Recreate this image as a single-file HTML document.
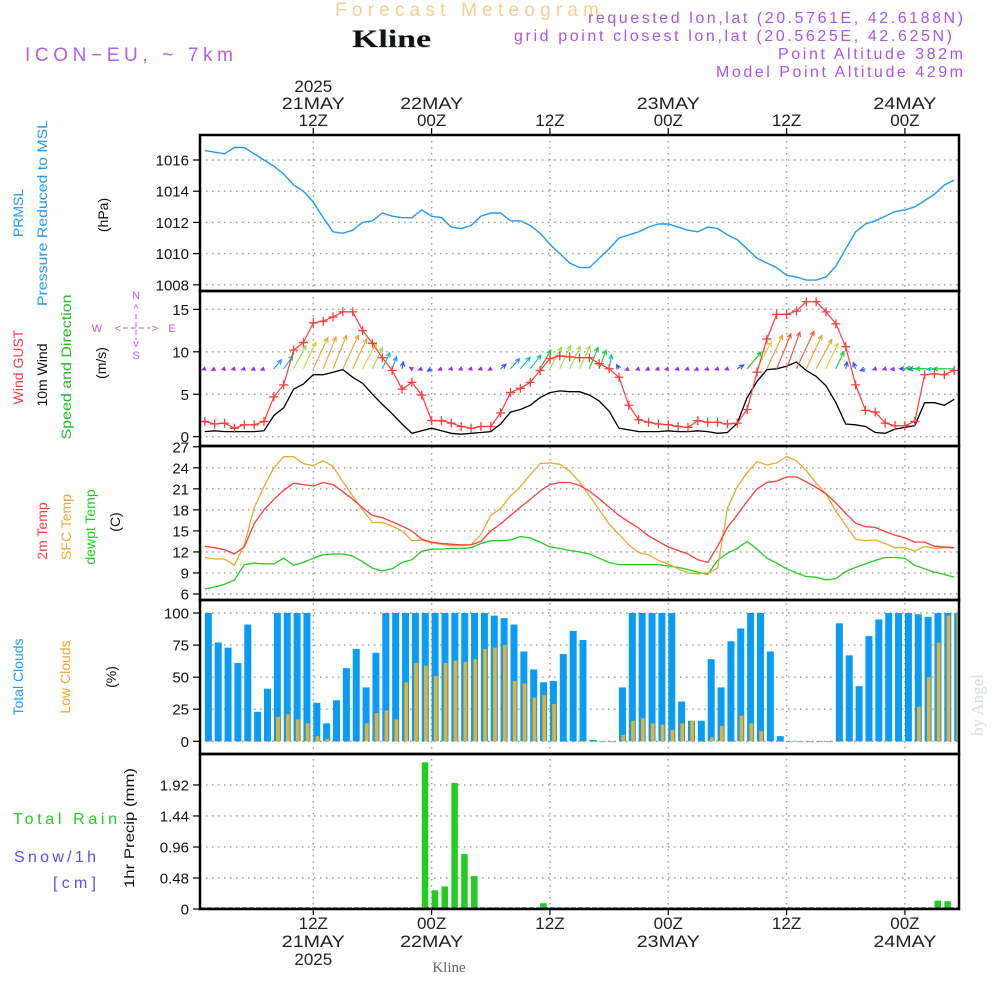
<!DOCTYPE html>
<html><head><meta charset="utf-8"><title>Forecast Meteogram - Kline</title>
<style>
html,body{margin:0;padding:0;background:#fff;}
svg{display:block;font-family:"Liberation Sans",sans-serif;}
.tk{font-size:15px;fill:#111;text-anchor:end;}
.ax{font-size:17px;fill:#222;text-anchor:middle;}
.lab{font-size:14px;text-anchor:middle;}
.grid{stroke:#9a9a9a;stroke-width:1.4;stroke-dasharray:1.5,4.5;fill:none;}
.frame{fill:none;stroke:#000;stroke-width:2.5;}
</style></head>
<body>
<svg id="chart" width="1000" height="1000" viewBox="0 0 1000 1000" xmlns="http://www.w3.org/2000/svg">
  <defs>
    <clipPath id="c1"><rect x="200" y="136" width="759" height="154"/></clipPath>
    <clipPath id="c2"><rect x="200" y="292" width="759" height="153"/></clipPath>
    <clipPath id="c3"><rect x="200" y="447" width="759" height="152"/></clipPath>
    <clipPath id="c4"><rect x="200" y="601" width="759" height="151"/></clipPath>
    <clipPath id="c5"><rect x="200" y="755" width="759" height="153"/></clipPath>
  </defs>
  <!-- header -->
  <text x="335" y="16" font-size="19" fill="#f4d08e" textLength="264" lengthAdjust="spacing">Forecast Meteogram</text>
  <text x="353" y="48" font-size="25" font-weight="bold" font-family="Liberation Serif, serif" fill="#cfe0cf" textLength="79" lengthAdjust="spacingAndGlyphs">Kline</text>
  <text x="352" y="47" font-size="25" font-weight="bold" font-family="Liberation Serif, serif" fill="#111" textLength="79" lengthAdjust="spacingAndGlyphs">Kline</text>
  <text x="25" y="61" font-size="19" fill="#b35ef0" textLength="208" lengthAdjust="spacing">ICON−EU, ~ 7km</text>
  <text x="588" y="23" font-size="16" fill="#a855e8" textLength="375" lengthAdjust="spacing">requested lon,lat (20.5761E, 42.6188N)</text>
  <text x="514" y="41" font-size="16" fill="#a855e8" textLength="438" lengthAdjust="spacing">grid point closest lon,lat (20.5625E, 42.625N)</text>
  <text x="778" y="59" font-size="16" fill="#a855e8" textLength="185" lengthAdjust="spacing">Point Altitude 382m</text>
  <text x="716" y="77" font-size="16" fill="#a855e8" textLength="247" lengthAdjust="spacing">Model Point Altitude 429m</text>

  <!-- left panel labels -->
  <g font-size="15">
    <text class="lab" fill="#1e9bff" transform="translate(23,213) rotate(-90)">PRMSL</text>
    <text class="lab" fill="#1e9bff" transform="translate(47,213) rotate(-90)" textLength="186" lengthAdjust="spacingAndGlyphs">Pressure Reduced to MSL</text>
    <text class="lab" fill="#111" transform="translate(108,215) rotate(-90)">(hPa)</text>
    <text class="lab" fill="#ff3c3c" transform="translate(23,367) rotate(-90)">Wind GUST</text>
    <text class="lab" fill="#111" transform="translate(47,375) rotate(-90)">10m Wind</text>
    <text class="lab" fill="#22bb22" transform="translate(71,367) rotate(-90)" textLength="145" lengthAdjust="spacingAndGlyphs">Speed and Direction</text>
    <text class="lab" fill="#111" transform="translate(106,363) rotate(-90)">(m/s)</text>
    <text class="lab" fill="#ff3c3c" transform="translate(47,531) rotate(-90)">2m Temp</text>
    <text class="lab" fill="#eea830" transform="translate(71,527) rotate(-90)">SFC Temp</text>
    <text class="lab" fill="#22cc22" transform="translate(95,527) rotate(-90)">dewpt Temp</text>
    <text class="lab" fill="#111" transform="translate(120,522) rotate(-90)">(C)</text>
    <text class="lab" fill="#1e9bff" transform="translate(23,677) rotate(-90)">Total Clouds</text>
    <text class="lab" fill="#eea830" transform="translate(70,677) rotate(-90)">Low Clouds</text>
    <text class="lab" fill="#111" transform="translate(116,677) rotate(-90)">(%)</text>
    <text class="lab" fill="#111" transform="translate(134,828) rotate(-90)" textLength="120" lengthAdjust="spacingAndGlyphs">1hr Precip (mm)</text>
  </g>
  <text x="13" y="824" font-size="16" fill="#22cc22" textLength="104" lengthAdjust="spacing">Total   Rain</text>
  <text x="14" y="862" font-size="16" fill="#5050ff" textLength="82" lengthAdjust="spacing">Snow/1h</text>
  <text x="53" y="888" font-size="16" fill="#5050ff" textLength="43" lengthAdjust="spacing">[cm]</text>
  <!-- compass -->
  <g fill="#b35ef0" font-size="11" text-anchor="middle">
    <text x="136" y="299">N</text>
    <text x="136" y="312">^</text>
    <text x="136" y="359">S</text>
    <text x="136" y="347">v</text>
    <text x="97" y="332">W</text>
    <text x="172" y="332">E</text>
    <text x="118" y="332">&lt;</text>
    <text x="155" y="332">&gt;</text>
    <line x1="123" y1="328" x2="150" y2="328" stroke="#b35ef0" stroke-width="1" stroke-dasharray="5,3"/>
    <line x1="136" y1="314" x2="136" y2="340" stroke="#b35ef0" stroke-width="1" stroke-dasharray="5,3"/>
  </g>
  <text font-family="Liberation Serif, serif" font-size="17" fill="#d6e2d6" text-anchor="middle" transform="translate(983,705) rotate(-90)">by Angel</text>
  <text x="449" y="972" font-family="Liberation Serif, serif" font-size="15" fill="#666" text-anchor="middle">Kline</text>

  <g id="gridLayer"></g>
  <g id="dataLayer"></g>
  <g id="frameLayer"></g>
  <g id="axisLayer"></g>
</svg>
<script>
// ===== Data (hourly, 01Z 21 MAY 2025 .. 05Z 24 MAY 2025) =====
const pressure = [1016.6,1016.5,1016.4,1016.8,1016.8,1016.4,1016.0,1015.6,1015.1,1014.4,
1014.0,1013.3,1012.3,1011.4,1011.3,1011.5,1012.0,1012.1,1012.6,1012.4,
1012.3,1012.3,1012.8,1012.4,1012.3,1011.7,1011.6,1011.8,1012.4,1012.6,
1012.6,1012.1,1012.1,1011.8,1011.3,1010.6,1010.0,1009.4,1009.1,1009.1,
1009.7,1010.3,1011.0,1011.2,1011.4,1011.7,1011.9,1011.9,1011.7,1011.5,
1011.4,1011.7,1011.6,1011.2,1010.9,1010.3,1009.7,1009.4,1009.1,1008.6,
1008.5,1008.3,1008.3,1008.5,1009.2,1010.3,1011.4,1011.9,1012.1,1012.4,
1012.7,1012.8,1013.0,1013.4,1013.8,1014.4,1014.7];
const windGust = [1.8,1.5,1.6,1.0,1.4,1.4,1.8,4.7,6.1,10.2,
11.1,13.4,13.6,14.1,14.7,14.7,12.5,11.0,9.3,7.8,
5.6,6.4,4.9,1.9,1.9,1.6,1.2,1.0,1.2,1.2,
2.8,5.2,5.7,6.4,7.8,9.2,9.5,9.4,9.3,9.3,
8.6,8.0,7.0,3.7,2.0,1.7,1.5,1.4,1.2,1.1,
1.9,1.7,1.7,1.5,1.6,3.2,7.6,11.5,14.4,14.4,
14.8,15.9,15.9,14.7,13.3,10.6,6.1,3.1,2.9,1.6,
1.3,1.3,1.8,7.3,7.4,7.3,7.8];
const windSpeed = [0.6,0.7,0.6,0.6,0.6,0.6,0.7,2.5,3.4,5.6,
6.2,7.3,7.3,7.6,7.9,7.0,6.3,5.0,3.8,2.7,
1.5,0.4,0.7,1.0,0.7,0.4,0.3,0.4,0.5,0.6,
1.5,2.9,3.2,3.7,4.6,5.2,5.4,5.3,5.3,4.9,
4.2,3.0,1.0,0.8,0.6,0.6,0.6,0.7,0.6,0.6,
0.7,0.6,0.4,0.5,1.6,4.6,6.5,7.9,8.0,8.3,
8.8,7.8,7.1,6.0,4.0,1.5,1.4,1.2,0.5,0.4,
0.9,1.1,1.3,4.0,4.0,3.7,4.4];
// direction the wind blows toward, degrees clockwise from north
const windToward = [250,240,250,255,250,245,250,40,35,28,
25,25,22,22,25,25,28,25,25,20,
10,300,250,240,250,255,245,250,250,240,
50,42,40,38,30,28,25,25,25,22,
20,10,330,250,250,245,250,255,250,250,
245,250,250,250,60,40,28,25,22,20,
25,25,28,25,25,10,340,250,250,250,
260,270,270,272,270,268,270];
const temp2m = [12.8,12.6,12.3,11.7,12.7,16.0,18.0,19.5,20.8,21.8,21.6,21.4,21.9,21.6,20.6,19.5,18.3,17.2,16.9,
16.3,15.7,15.0,13.8,13.4,13.2,13.1,13.0,13.0,13.5,15.0,16.0,17.2,18.4,19.5,20.7,21.6,
21.9,21.9,21.5,20.7,19.6,18.4,17.2,16.3,15.4,14.3,13.5,12.7,12.2,11.7,10.9,10.5,12.8,
15.5,17.3,19.2,21.0,21.9,22.1,22.7,22.7,22.0,21.2,20.3,19.0,17.5,16.1,15.6,15.5,14.9,14.4,14.0,13.4,13.4,12.8,12.7,12.6];
const tempSfc = [11.2,11.0,11.0,10.1,13.0,18.3,21.3,24.0,25.6,25.6,
24.6,24.3,25.0,24.2,22.0,20.0,18.0,16.2,16.2,15.7,
15.0,13.6,13.7,13.3,13.1,12.9,12.9,13.0,14.5,17.2,
18.2,20.0,21.3,23.0,24.6,24.7,24.5,23.5,22.0,20.0,
18.0,16.0,
14.5,13.0,11.9,11.6,10.8,10.3,9.6,9.0,8.9,9.0,
9.7,18.2,21.3,23.3,24.9,24.4,24.7,25.6,25.0,23.6,
21.8,20.3,17.8,15.8,13.8,13.6,13.7,13.2,12.6,12.6,
12.1,12.8,12.5,12.6,12.6];
const dewpt = [6.7,7.0,7.4,8.0,10.2,10.4,10.3,10.3,11.1,10.1,
10.5,11.1,11.6,11.7,11.7,11.4,10.6,9.7,9.3,9.6,
10.5,10.9,12.1,12.4,12.4,12.5,12.5,12.6,13.2,13.6,
13.6,13.7,14.2,14.0,13.4,12.7,12.5,12.2,12.0,11.7,
11.1,10.5,10.2,10.2,10.2,10.2,10.2,
10.0,9.8,9.5,9.1,8.8,10.8,11.8,12.5,13.5,12.4,
11.1,10.4,9.6,9.0,8.5,8.4,8.0,8.2,9.2,9.8,
10.3,10.8,11.2,11.2,11.1,10.1,9.6,9.1,8.8,8.4];
const totalClouds = [100,77,73,61,91,23,41,100,100,100,100,30,14,32,57,72,42,69,
100,100,100,100,100,100,100,100,100,100,100,
98,96,91,70,56,46,47,68,86,79,1,0,0,
42,100,100,100,100,100,
31,16,16,64,42,78,88,100,100,70,4,
0,0,0,0,0,
92,67,43,82,95,100,100,100,99,97,100,100,100];
const lowClouds = [0,0,0,0,0,0,0,19,21,17,14,4,2,0,0,0,
14,22,24,17,46,61,59,51,61,63,62,64,72,73,75,47,45,34,36,29,
0,0,0,0,0,0,
5,16,18,14,13,9,14,16,0,3,12,0,20,14,8,
0,0,0,0,0,0,0,0,0,0,0,0,0,0,0,
27,50,77,98,100];
const precip = [0,0.01,0,0,0,0,0,0,0,0.01,0,0,0,0,0,0,0,0,0,0,0,0,
2.27,0.29,0.35,1.95,0.85,0.51,0,0.02,0,0,0.02,0,0.09,0.02,
0,0,0,0,0,0,0,0,0,0,0,0,0,0,0,0,0,0,0,0,0,0,0,0,0,0,0,0,0,0,0,0,0,0,0,0,0,0,
0.13,0.12,0];
const pressTicks = [1008,1010,1012,1014,1016];
const windTicks = [0,5,10,15];
const tempTicks = [6,9,12,15,18,21,24,27];
const cloudTicks = [0,25,50,75,100];
const precipTicks = [0,0.48,0.96,1.44,1.92];
const precipTickLabels = ["0","0.48","0.96","1.44","1.92"];
const majorHours = [11,23,35,47,59,71];
const topLabels = [["2025","21MAY","12Z"],["","22MAY","00Z"],["","","12Z"],["","23MAY","00Z"],["","","12Z"],["","24MAY","00Z"]];
const bottomLabels = [["12Z","21MAY","2025"],["00Z","22MAY",""],["12Z","",""],["00Z","23MAY",""],["12Z","",""],["00Z","24MAY",""]];

// ===== Axis functions =====
const NS = "http://www.w3.org/2000/svg";
const XL = 200, XR = 959;
function xH(i){ return 313.3 + (i - 11) * 9.86; }
function yP(v){ return 160 + (1016 - v) * 15.6; }
function yW(v){ return 436.7 - v * 8.49; }
function yT(v){ return 594 - (v - 6) * 7.01; }
function yC(v){ return 741.3 - v * 1.283; }
function yR(v){ return 909 - v * 64.6; }
const panels = [[135,291],[291,446],[446,600],[600,754],[754,909]];

function E(tag){ return document.createElementNS(NS, tag); }
function A(el, o){ for (const k in o) el.setAttribute(k, o[k]); return el; }
const gridL = document.getElementById("gridLayer");
const dataL = document.getElementById("dataLayer");
const frameL = document.getElementById("frameLayer");
const axisL = document.getElementById("axisLayer");

majorHours.forEach(function(h, k){
  const x = xH(h);
  const g = E("line");
  A(g, {x1:x, y1:135, x2:x, y2:909, class:"grid"});
  
  
  gridL.appendChild(g);
  const t1 = E("line");
  A(t1, {x1:x, y1:128, x2:x, y2:135, stroke:"#000", "stroke-width":1.2});
  
  
  axisL.appendChild(t1);
  const t2 = E("line");
  A(t2, {x1:x, y1:909, x2:x, y2:915, stroke:"#000", "stroke-width":1.2});
  
  
  axisL.appendChild(t2);
  const ys = [92,109,126];
  topLabels[k].forEach(function(s, j){
    if (!s) return;
    const t = E("text");
    A(t, {x:x, y:ys[j], class:"ax"});
    if (s.length === 5) A(t, {textLength:63, lengthAdjust:"spacingAndGlyphs"});
    t.textContent = s;
    
    
    axisL.appendChild(t);
  });
  const yb = [929,947,965];
  bottomLabels[k].forEach(function(s, j){
    if (!s) return;
    const t = E("text");
    A(t, {x:x, y:yb[j], class:"ax"});
    if (s.length === 5) A(t, {textLength:63, lengthAdjust:"spacingAndGlyphs"});
    t.textContent = s;
    
    
    axisL.appendChild(t);
  });
});

function yAxis(ticks, labels, fy, name, minY, maxY){
  ticks.forEach(function(v, k){
    const y = fy(v);
    if (y > minY + 3 && y < maxY - 3) {
      const g = E("line");
      A(g, {x1:XL, y1:y, x2:XR, y2:y, class:"grid"});
      
      
      gridL.appendChild(g);
    }
    const tk = E("line");
    A(tk, {x1:193, y1:y, x2:XL, y2:y, stroke:"#000", "stroke-width":1.2});
    
    
    axisL.appendChild(tk);
    const t = E("text");
    A(t, {x:189, y:y + 5.5, class:"tk"});
    t.textContent = labels ? labels[k] : String(v);
    
    
    axisL.appendChild(t);
  });
}
yAxis(pressTicks, null, yP, "pressure-axis", 135, 291);
yAxis(windTicks, null, yW, "wind-axis", 291, 446);
yAxis(tempTicks, null, yT, "temp-axis", 446, 600);
yAxis(cloudTicks, null, yC, "cloud-axis", 600, 754);
yAxis(precipTicks, precipTickLabels, yR, "precip-axis", 754, 909);

panels.forEach(function(p){
  const r = E("rect");
  A(r, {x:XL, y:p[0], width:XR - XL, height:p[1] - p[0], class:"frame"});
  
  
  frameL.appendChild(r);
});

function linePath(arr, fy){
  return arr.map(function(v, i){ return (i ? "L" : "M") + xH(i).toFixed(1) + " " + fy(v).toFixed(1); }).join(" ");
}
function group(clip, name){
  const g = E("g");
  A(g, {"clip-path":"url(#" + clip + ")"});
  
  
  dataL.appendChild(g);
  return g;
}

const g1 = group("c1", "pressure-panel");
const pl = E("path");
A(pl, {d:linePath(pressure, yP), fill:"none", stroke:"#1e9bff", "stroke-width":1.4});


g1.appendChild(pl);

const g2 = group("c2", "wind-panel");
const ws = E("path");
A(ws, {d:linePath(windSpeed, yW), fill:"none", stroke:"#000", "stroke-width":1.3});


g2.appendChild(ws);
function windColor(s){
  if (s < 1) return "#9b30e0";
  if (s < 2) return "#2a50ff";
  if (s < 3) return "#1e90ff";
  if (s < 4) return "#00c0c8";
  if (s < 5) return "#10cc30";
  if (s < 6) return "#9ae040";
  if (s < 7) return "#e0d028";
  if (s < 8) return "#f0a030";
  if (s < 9) return "#ff4a3a";
  return "#ff1090";
}
const yBase = yW(8);
windSpeed.forEach(function(s, i){
  const x0 = xH(i);
  const a = windToward[i] * Math.PI / 180;
  const L = Math.max(s * 4.7, 2.5);
  const x1 = x0 + Math.sin(a) * L, y1 = yBase - Math.cos(a) * L;
  const c = windColor(s);
  const h = s < 1 ? 3.5 : 5, sp = 0.45;
  const hx1 = x1 - Math.sin(a - sp) * h, hy1 = y1 + Math.cos(a - sp) * h;
  const hx2 = x1 - Math.sin(a + sp) * h, hy2 = y1 + Math.cos(a + sp) * h;
  const ar = E("path");
  let d;
  if (s < 1) d = "M" + hx1 + " " + hy1 + " L" + x1 + " " + y1 + " L" + hx2 + " " + hy2 + " Z";
  else d = "M" + x0 + " " + yBase + " L" + x1 + " " + y1 + " M" + hx1 + " " + hy1 + " L" + x1 + " " + y1 + " L" + hx2 + " " + hy2;
  A(ar, {d:d, fill:(s < 1 ? c : "none"), stroke:c, "stroke-width":1.1});
  
  
  g2.appendChild(ar);
});
const gl = E("path");
A(gl, {d:linePath(windGust, yW), fill:"none", stroke:"#ff3c3c", "stroke-width":1.2});


g2.appendChild(gl);
windGust.forEach(function(v, i){
  const x = xH(i), y = yW(v);
  const m = E("path");
  A(m, {d:"M" + (x - 4.5) + " " + y + " H" + (x + 4.5) + " M" + x + " " + (y - 4.5) + " V" + (y + 4.5), stroke:"#ff3c3c", "stroke-width":1.3});
  
  
  g2.appendChild(m);
});

const g3 = group("c3", "temperature-panel");
[[dewpt, "#22cc22", "dewpoint-line"], [tempSfc, "#eea830", "sfc-temp-line"], [temp2m, "#ff3c3c", "temp-2m-line"]].forEach(function(s){
  const p = E("path");
  A(p, {d:linePath(s[0], yT), fill:"none", stroke:s[1], "stroke-width":1.3});
  
  
  g3.appendChild(p);
});

const g4 = group("c4", "cloud-panel");
totalClouds.forEach(function(v, i){
  const x = xH(i);
  const r = E("rect");
  A(r, {x:x, y:yC(v), width:7, height:Math.max(yC(0) - yC(v), 0.8), fill:"#0a9cf5"});
  
  
  g4.appendChild(r);
});
lowClouds.forEach(function(v, i){
  const x = xH(i);
  const r = E("rect");
  A(r, {x:x + 2.3, y:yC(v), width:3.7, height:Math.max(yC(0) - yC(v), 0.8), fill:"#e8b030"});
  
  
  g4.appendChild(r);
});

const g5 = group("c5", "precip-panel");
precip.forEach(function(v, i){
  if (v <= 0) return;
  const x = xH(i);
  const r = E("rect");
  A(r, {x:x, y:yR(v), width:6.5, height:yR(0) - yR(v), fill:"#22cc22"});
  
  
  g5.appendChild(r);
});
const zl = E("line");
A(zl, {x1:XL, y1:908, x2:XR, y2:908, stroke:"#333", "stroke-width":1.2, "stroke-dasharray":"5,2"});


g5.appendChild(zl);
</script>
</body></html>
